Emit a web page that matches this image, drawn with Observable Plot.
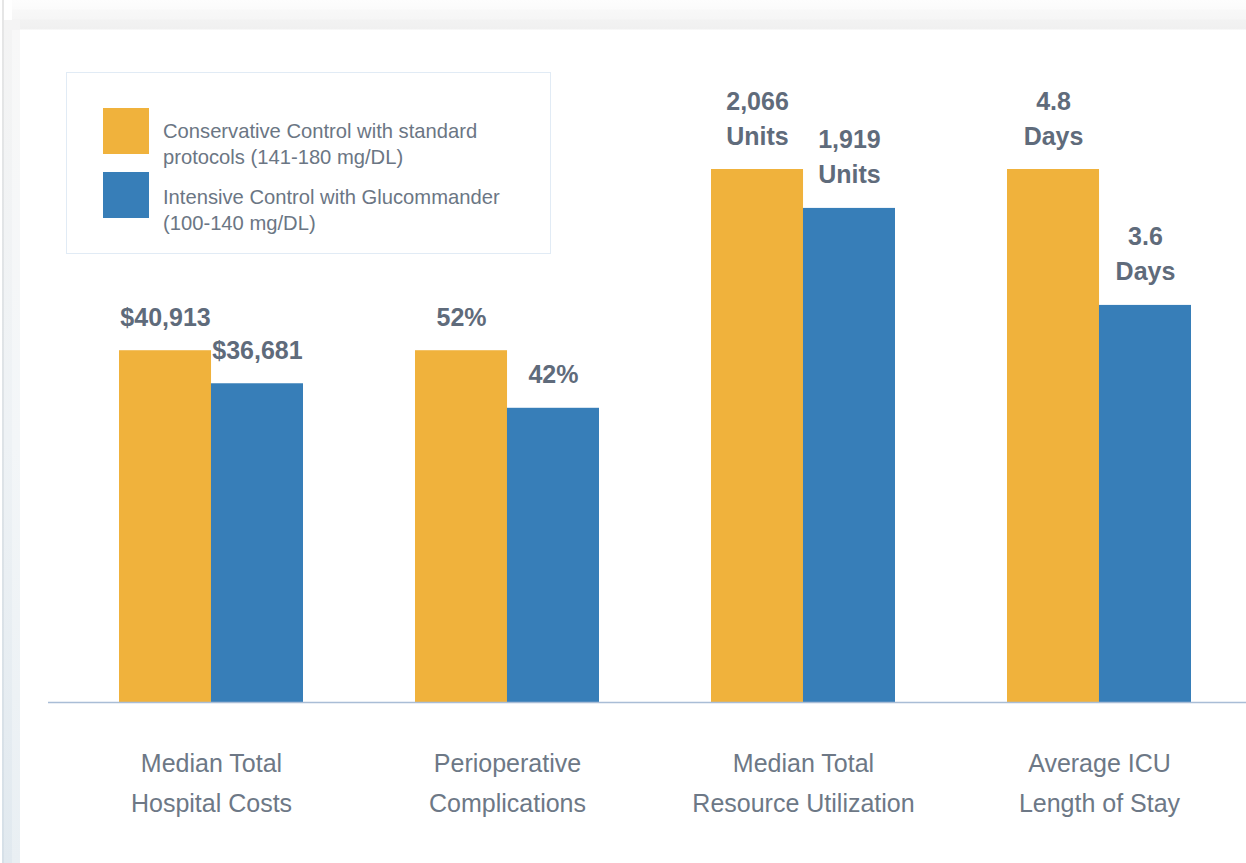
<!DOCTYPE html>
<html>
<head>
<meta charset="utf-8">
<script src="https://cdn.jsdelivr.net/npm/d3@7"></script>
<script src="https://cdn.jsdelivr.net/npm/@observablehq/plot@0.6"></script>
<style>
  html, body { margin: 0; padding: 0; background: #ffffff; width: 1246px; height: 863px; overflow: hidden; font-family: "Liberation Sans", Arial, sans-serif; }
  #wrap { position: relative; width: 1246px; height: 863px; }
  .topshade { position: absolute; left: 12px; top: 0; width: 1234px; height: 30px;
    background: linear-gradient(to bottom, #fdfdfd 0px, #fbfbfb 9px, #f8f8f8 10px, #f6f6f6 19px, #f2f2f2 20px, #f0f0f0 29px, #ffffff 30px); }
  .leftline { position: absolute; left: 2px; top: 0; width: 2px; height: 863px; background: linear-gradient(to bottom, #e6e6e6, #d6e0e8); }
  .leftshade { position: absolute; left: 4px; top: 20px; width: 16px; height: 843px;
    background: linear-gradient(to bottom, #f4f4f4, #eef2f5 50%, #e1e9ef); }
  .leftshade2 { position: absolute; left: 12px; top: 30px; width: 8px; height: 833px;
    background: linear-gradient(to bottom, #f8f8f8, #f3f6f8 50%, #e9eff3); }
  #chart { position: absolute; left: 0; top: 0; }
  #legend { position: absolute; left: 66px; top: 72px; width: 483px; height: 180px;
    border: 1.5px solid #e1ebf5; background: #ffffff; }
  .sw { position: absolute; left: 36px; width: 46px; height: 46px; }
  .lt { position: absolute; left: 96px; font-size: 20.2px; line-height: 26px; color: #6b7684; white-space: nowrap; }
</style>
</head>
<body>
<div id="wrap">
  <div class="topshade"></div>
  <div class="leftline"></div>
  <div class="leftshade"></div>
  <div class="leftshade2"></div>
  <div id="chart"></div>
  <div id="legend"></div>
</div>
<script>
// ---- data ----
const categories = [
  "Median Total Hospital Costs",
  "Perioperative Complications",
  "Median Total Resource Utilization",
  "Average ICU Length of Stay"
];
const categoryLines = [
  "Median Total\nHospital Costs",
  "Perioperative\nComplications",
  "Median Total\nResource Utilization",
  "Average ICU\nLength of Stay"
];
const seriesNames = [
  "Conservative Control with standard protocols (141-180 mg/DL)",
  "Intensive Control with Glucommander (100-140 mg/DL)"
];
const seriesLegendLines = [
  ["Conservative Control with standard", "protocols (141-180 mg/DL)"],
  ["Intensive Control with Glucommander", "(100-140 mg/DL)"]
];
const seriesColors = ["#f0b23c", "#377eb8"];
// value labels as printed
const conservativeLabels = ["$40,913", "52%", "2,066\nUnits", "4.8\nDays"];
const intensiveLabels = ["$36,681", "42%", "1,919\nUnits", "3.6\nDays"];
// displayed bar heights (relative, tallest bar = 100)
const conservativeHeights = [66.0, 66.0, 100, 100];
const intensiveHeights = [59.8, 55.2, 92.7, 74.5];

// ---- build tables ----
const conservative = categories.map((c, i) => ({category: c, series: seriesNames[0], height: conservativeHeights[i], label: conservativeLabels[i]}));
const intensive = categories.map((c, i) => ({category: c, series: seriesNames[1], height: intensiveHeights[i], label: intensiveLabels[i]}));

const W = 1246, H = 863;
const mL = 48, mR = 0, mT = 169, mB = 161;
const padIn = 0.38, padOut = 0.209;
const step = (W - mL - mR) / (categories.length - padIn + 2 * padOut);
const half = step * (1 - padIn) / 2;

const valueFont = {fontSize: 25, fontWeight: "bold", fill: "#5f6b7b", lineHeight: 1.4, lineAnchor: "bottom", textAnchor: "middle"};

const chart = Plot.plot({
  width: W,
  height: H,
  marginLeft: mL,
  marginRight: mR,
  marginTop: mT,
  marginBottom: mB,
  style: {background: "transparent", fontFamily: "'Liberation Sans', Arial, sans-serif"},
  x: {domain: categories, paddingInner: padIn, paddingOuter: padOut, align: 0.56, axis: null},
  y: {domain: [0, 100], axis: null},
  color: {domain: seriesNames, range: seriesColors},
  marks: [
    Plot.barY(conservative, {x: "category", y: "height", fill: "series", insetRight: half}),
    Plot.barY(intensive, {x: "category", y: "height", fill: "series", insetLeft: half}),
    Plot.ruleY([0], {stroke: "#a9bdd6", strokeWidth: 1.5}),
    Plot.text(conservative, {x: "category", y: "height", text: "label", dx: -half / 2, dy: -25, ...valueFont}),
    Plot.text(intensive, {x: "category", y: "height", text: "label", dx: half / 2, dy: -25, ...valueFont}),
    Plot.text(categories, {x: d => d, frameAnchor: "bottom", text: (d, i) => categoryLines[i],
      lineAnchor: "top", dy: 41, fontSize: 25, lineHeight: 1.6, fill: "#6d7886", textAnchor: "middle"})
  ]
});
document.getElementById("chart").appendChild(chart);

// ---- legend ----
const legend = document.getElementById("legend");
const swTops = [35, 99];
const textTops = [45, 111];
seriesNames.forEach((s, i) => {
  const sw = document.createElement("div");
  sw.className = "sw";
  sw.style.top = swTops[i] + "px";
  sw.style.background = seriesColors[i];
  legend.appendChild(sw);
  const t = document.createElement("div");
  t.className = "lt";
  t.style.top = textTops[i] + "px";
  t.innerHTML = seriesLegendLines[i].join("<br>");
  legend.appendChild(t);
});
</script>
</body>
</html>
